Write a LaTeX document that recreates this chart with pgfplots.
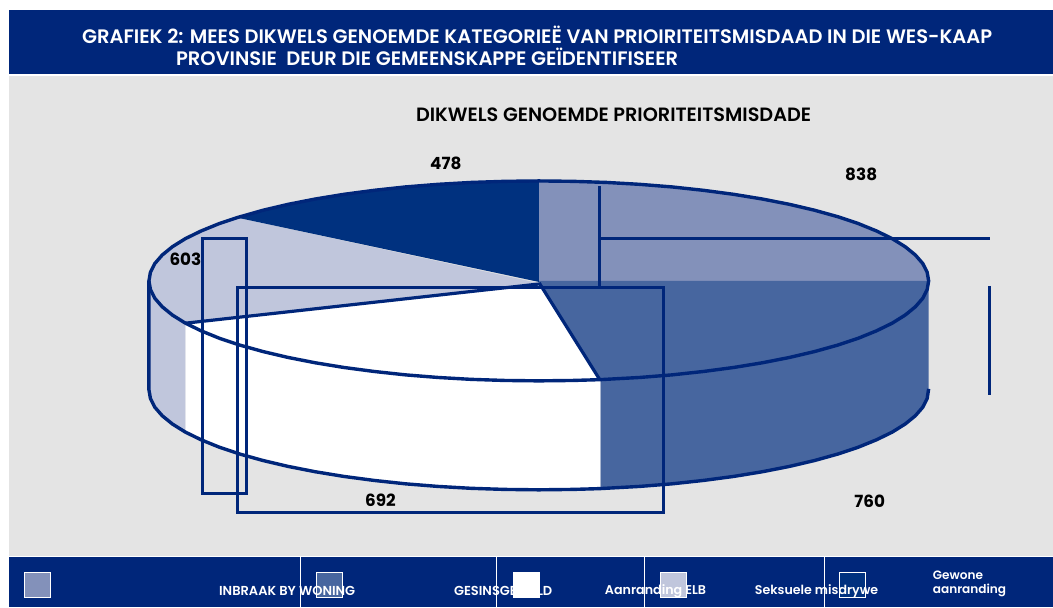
\documentclass[border=0pt]{standalone}
\usepackage{fontspec}
\setmainfont{Poppins}[BoldFont={Poppins SemiBold}]
\newfontfamily\numfont{Poppins}[UprightFont={* Bold}]
\usepackage{pgfplots}
\pgfplotsset{compat=1.18}
\definecolor{navy}{HTML}{00267A}
\definecolor{navyb}{HTML}{00317F}
\definecolor{bg}{HTML}{E4E4E4}
\definecolor{sa}{HTML}{8391BA}
\definecolor{sb}{HTML}{47669F}
\definecolor{sd}{HTML}{C0C6DC}
\begin{document}
\begin{tikzpicture}
\begin{axis}[
  scale only axis, width=1053pt, height=607pt,
  xmin=0, xmax=1053, ymin=0, ymax=607, y dir=reverse,
  hide axis, clip=false,
  every axis plot/.append style={mark=none},
]
% page and panels
\addplot[fill=white,draw=none] coordinates {(0,0)(1053,0)(1053,607)(0,607)} -- cycle;
\addplot[fill=bg,draw=none] coordinates {(9,75)(1053,75)(1053,557)(9,557)} -- cycle;
\addplot[fill=navy,draw=none] coordinates {(9,10)(1053,10)(1053,74)(9,74)} -- cycle;
\addplot[fill=navy,draw=none] coordinates {(9,557)(1053,557)(1053,607)(9,607)} -- cycle;
\addplot[draw=white,line width=0.8pt] coordinates {(9,75)(1053,75)};
\addplot[draw=white,line width=0.8pt] coordinates {(9,556.8)(1053,556.8)};
% side walls
\addplot[fill=sb,draw=none] coordinates {(929,281)(927.5,289.7)(923.1,298.4)(915.7,306.9)(905.5,315.2)(892.5,323.3)(876.7,331)(858.5,338.4)(837.8,345.3)(814.8,351.7)(789.7,357.6)(762.7,362.9)(734,367.6)(703.8,371.6)(672.4,375)(639.9,377.6)(600.5,379.8)
 (600.5,488.8)(639.9,486.6)(672.4,484)(703.8,480.6)(734,476.6)(762.7,471.9)(789.7,466.6)(814.8,460.7)(837.8,454.3)(858.5,447.4)(876.7,440)(892.5,432.3)(905.5,424.2)(915.7,415.9)(923.1,407.4)(927.5,398.7)(929,390)} -- cycle;
\addplot[fill=white,draw=none] coordinates {(600.5,379.8)(573,380.6)(539,381)(505,380.6)(471.3,379.5)(438.1,377.6)(405.6,375)(374.2,371.6)(344,367.6)(315.3,362.9)(288.3,357.6)(263.2,351.7)(240.2,345.3)(219.5,338.4)(201.3,331)(185.5,323.3)
 (185.5,432.3)(201.3,440)(219.5,447.4)(240.2,454.3)(263.2,460.7)(288.3,466.6)(315.3,471.9)(344,476.6)(374.2,480.6)(405.6,484)(438.1,486.6)(471.3,488.5)(505,489.6)(539,490)(573,489.6)(600.5,488.8)} -- cycle;
\addplot[fill=sd,draw=none] coordinates {(185.5,323.3)(172.5,315.2)(162.3,306.9)(154.9,298.4)(150.5,289.7)(149,281)
 (149,390)(150.5,398.7)(154.9,407.4)(162.3,415.9)(172.5,424.2)(185.5,432.3)} -- cycle;
% top: value 838
\addplot[fill=sa,draw=none] coordinates {(539,281)(539,181)(573,181.4)(606.7,182.5)(639.9,184.4)(672.4,187)(703.8,190.4)(734,194.4)(762.7,199.1)(789.7,204.4)(814.8,210.3)(837.8,216.7)(858.5,223.6)(876.7,231)(892.5,238.7)(905.5,246.8)(915.7,255.1)(923.1,263.6)(927.5,272.3)(929,281)} -- cycle;
% top: value 760
\addplot[fill=sb,draw=none] coordinates {(539,281)(929,281)(927.5,289.7)(923.1,298.4)(915.7,306.9)(905.5,315.2)(892.5,323.3)(876.7,331)(858.5,338.4)(837.8,345.3)(814.8,351.7)(789.7,357.6)(762.7,362.9)(734,367.6)(703.8,371.6)(672.4,375)(639.9,377.6)(600,379.8)(540,284)} -- cycle;
% top: value 692
\addplot[fill=white,draw=none] coordinates {(540,284)(600,379.8)(573,380.6)(539,381)(505,380.6)(471.3,379.5)(438.1,377.6)(405.6,375)(374.2,371.6)(344,367.6)(315.3,362.9)(288.3,357.6)(263.2,351.7)(240.2,345.3)(219.5,338.4)(201.3,331)(185.5,323.3)} -- cycle;
% top: value 603
\addplot[fill=sd,draw=none] coordinates {(538,283)(185.5,323.3)(172.5,315.2)(162.3,306.9)(154.9,298.4)(150.5,289.7)(149,281)(150.5,272.3)(154.9,263.6)(162.3,255.1)(172.5,246.8)(185.5,238.7)(201.3,231)(219.5,223.6)(237.2,217.7)} -- cycle;
% top: value 478
\addplot[fill=navyb,draw=none] coordinates {(539,282)(237.2,217.7)(263.2,210.3)(288.3,204.4)(315.3,199.1)(344,194.4)(374.2,190.4)(405.6,187)(438.1,184.4)(471.3,182.5)(505,181.4)(539,181)} -- cycle;
% outlines
\addplot[draw=navy,line width=3.2pt] coordinates {(185.5,323.3)(540,284)(600,379.8)};
\addplot[draw=navy,line width=3.4pt] coordinates {(929,281)(927.5,289.7)(923.1,298.4)(915.7,306.9)(905.5,315.2)(892.5,323.3)(876.7,331)(858.5,338.4)(837.8,345.3)(814.8,351.7)(789.7,357.6)(762.7,362.9)(734,367.6)(703.8,371.6)(672.4,375)(639.9,377.6)(600,379.8)(573,380.6)(539,381)(505,380.6)(471.3,379.5)(438.1,377.6)(405.6,375)(374.2,371.6)(344,367.6)(315.3,362.9)(288.3,357.6)(263.2,351.7)(240.2,345.3)(219.5,338.4)(201.3,331)(185.5,323.3)(172.5,315.2)(162.3,306.9)(154.9,298.4)(150.5,289.7)(149,281)(150.5,272.3)(154.9,263.6)(162.3,255.1)(172.5,246.8)(185.5,238.7)(201.3,231)(219.5,223.6)(237.2,217.7)(263.2,210.3)(288.3,204.4)(315.3,199.1)(344,194.4)(374.2,190.4)(405.6,187)(438.1,184.4)(471.3,182.5)(505,181.4)(539,181)(573,181.4)(606.7,182.5)(639.9,184.4)(672.4,187)(703.8,190.4)(734,194.4)(762.7,199.1)(789.7,204.4)(814.8,210.3)(837.8,216.7)(858.5,223.6)(876.7,231)(892.5,238.7)(905.5,246.8)(915.7,255.1)(923.1,263.6)(927.5,272.3)} -- cycle;
\addplot[draw=navy,line width=3.4pt] coordinates {(149,281)(149,390)(150.5,398.7)(154.9,407.4)(162.3,415.9)(172.5,424.2)(185.5,432.3)(201.3,440)(219.5,447.4)(240.2,454.3)(263.2,460.7)(288.3,466.6)(315.3,471.9)(344,476.6)(374.2,480.6)(405.6,484)(438.1,486.6)(471.3,488.5)(505,489.6)(539,490)(573,489.6)(600,488.8)(639.9,486.6)(672.4,484)(703.8,480.6)(734,476.6)(762.7,471.9)(789.7,466.6)(814.8,460.7)(837.8,454.3)(858.5,447.4)(876.7,440)(892.5,432.3)(905.5,424.2)(915.7,415.9)(923.1,407.4)(927.5,398.7)(929,389)};
% overlaid frames and lines
\addplot[draw=navy,line width=3pt] coordinates {(202.5,238.5)(247,238.5)(247,494)(202.5,494)} -- cycle;
\addplot[draw=navy,line width=3pt] coordinates {(237.5,288)(664,288)(664,513)(237.5,513)} -- cycle;
\addplot[draw=navy,line width=3pt] coordinates {(599.5,186)(599.5,288)};
\addplot[draw=navy,line width=3pt] coordinates {(599.5,238.5)(990,238.5)};
\addplot[draw=navy,line width=3pt] coordinates {(989.5,286)(989.5,395)};
% footer
\addplot[draw=white,line width=1pt] coordinates {(300.5,557)(300.5,607)};
\addplot[draw=white,line width=1pt] coordinates {(496.5,557)(496.5,607)};
\addplot[draw=white,line width=1pt] coordinates {(645,557)(645,607)};
\addplot[draw=white,line width=1pt] coordinates {(825,557)(825,607)};
\addplot[fill=sa,draw=white,line width=1pt] coordinates {(24.5,572.5)(50.5,572.5)(50.5,598)(24.5,598)} -- cycle;
\addplot[fill=sb,draw=white,line width=1pt] coordinates {(316.5,572.5)(342.5,572.5)(342.5,598)(316.5,598)} -- cycle;
\addplot[fill=white,draw=white,line width=1pt] coordinates {(513.5,572.5)(539.5,572.5)(539.5,598)(513.5,598)} -- cycle;
\addplot[fill=sd,draw=white,line width=1pt] coordinates {(661,572.5)(687,572.5)(687,598)(661,598)} -- cycle;
\addplot[fill=navyb,draw=white,line width=1pt] coordinates {(839.5,572.5)(865.5,572.5)(865.5,598)(839.5,598)} -- cycle;
% text
\tikzset{t/.style={inner sep=0pt,anchor=west,font=\fontsize{#1}{#1}\selectfont\bfseries},
  n/.style={inner sep=0pt,anchor=center,text=black,font=\fontsize{16.8}{16.8}\selectfont\numfont}}
\node[t=19.5,text=white] at (axis cs:82,34.5) {GRAFIEK 2: MEES DIKWELS GENOEMDE KATEGORIEË VAN PRIOIRITEITSMISDAAD IN DIE WES-KAAP};
\node[t=19.5,text=white] at (axis cs:176,57) {PROVINSIE\ \ DEUR DIE GEMEENSKAPPE GEÏDENTIFISEER};
\node[t=19.25,text=black] at (axis cs:416,114.5) {DIKWELS GENOEMDE PRIORITEITSMISDADE};
\node[n] at (axis cs:446,163) {478};
\node[n] at (axis cs:861.5,174) {838};
\node[n] at (axis cs:185.5,259.5) {603};
\node[n] at (axis cs:380.5,500.5) {692};
\node[n] at (axis cs:870,501) {760};
\node[t=13,text=white] at (axis cs:219,591) {INBRAAK BY WONING};
\node[t=13,text=white] at (axis cs:454,591) {GESINSGEWELD};
\node[t=12.7,text=white] at (axis cs:605,591) {Aanranding ELB};
\node[t=12.6,text=white] at (axis cs:755,591) {Seksuele misdrywe};
\node[t=12.1,text=white] at (axis cs:933,575) {Gewone};
\node[t=12.1,text=white] at (axis cs:933,591) {aanranding};
\end{axis}
\end{tikzpicture}
\end{document}
